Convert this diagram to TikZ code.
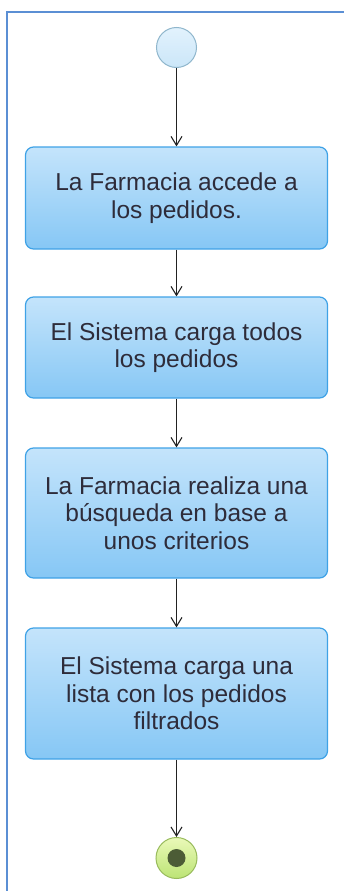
\documentclass[tikz,border=0pt]{standalone}
\usepackage{fontspec}
\setmainfont{Liberation Sans}
\usetikzlibrary{arrows.meta}
\definecolor{framecol}{HTML}{5B8FD4}
\definecolor{boxtop}{HTML}{C4E4FB}
\definecolor{boxbot}{HTML}{86C7F5}
\definecolor{boxline}{HTML}{3FA2E6}
\definecolor{txtcol}{HTML}{2E2C3A}
\definecolor{startfillA}{HTML}{E2F2FD}
\definecolor{startfillB}{HTML}{CBE6F8}
\definecolor{startline}{HTML}{8FB6CC}
\definecolor{endfillA}{HTML}{EAF9B8}
\definecolor{endfillB}{HTML}{BCE475}
\definecolor{endline}{HTML}{98BB5C}
\definecolor{enddot}{HTML}{4C5C36}
\definecolor{arrowcol}{HTML}{222222}
\tikzset{
  actbox/.style={rectangle, rounded corners=8pt, draw=boxline, line width=1.2pt,
    top color=boxtop, bottom color=boxbot, minimum width=302pt,
    text=txtcol, align=center, inner sep=0pt,
    font=\fontsize{24.5}{27.5}\selectfont},
  startnode/.style={circle, minimum size=40pt, inner sep=0pt, draw=startline, line width=1pt,
    top color=startfillA, bottom color=startfillB},
  endnode/.style={circle, minimum size=41pt, inner sep=0pt, draw=endline, line width=1pt,
    top color=endfillA, bottom color=endfillB},
  flow/.style={draw=arrowcol, line width=1.3pt, -{Straight Barb[length=9pt,width=11pt,line width=1.1pt]}},
  frameline/.style={draw=framecol, line width=2pt}
}
\begin{document}
\begin{tikzpicture}[x=1pt,y=-1pt]
\useasboundingbox (0,0) rectangle (343,891);
\draw[frameline] (6.5,900) -- (6.5,12.5) -- (360,12.5);
\node[startnode] (start) at (176.5,47.5) {};
\node[actbox, minimum height=102pt] (b1) at (176.5,198) {La Farmacia accede a\\los pedidos.};
\node[actbox, minimum height=101pt] (b2) at (176.5,347.5) {El Sistema carga todos\\los pedidos};
\node[actbox, minimum height=130pt] (b3) at (176.5,513) {La Farmacia realiza una\\búsqueda en base a\\unos criterios};
\node[actbox, minimum height=131pt] (b4) at (176.5,693.5) {El Sistema carga una\\lista con los pedidos\\filtrados};
\node[endnode] (end) at (176.5,858) {};
\fill[enddot] (end.center) circle (9pt);
\draw[flow] (start) -- (b1);
\draw[flow] (b1) -- (b2);
\draw[flow] (b2) -- (b3);
\draw[flow] (b3) -- (b4);
\draw[flow] (b4) -- (end);
\end{tikzpicture}
\end{document}
